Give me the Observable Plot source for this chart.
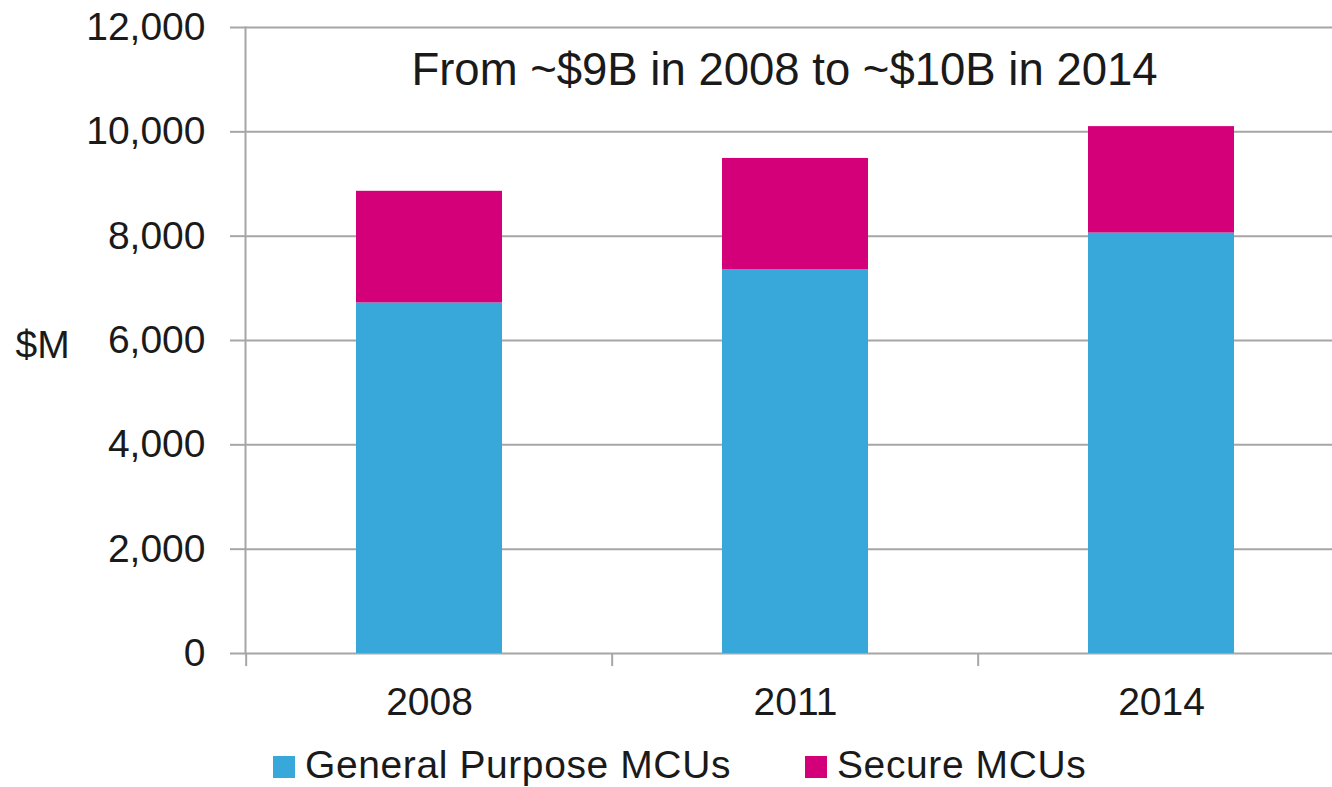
<!DOCTYPE html>
<html>
<head>
<meta charset="utf-8">
<script src="https://cdn.jsdelivr.net/npm/d3@7"></script>
<script src="https://cdn.jsdelivr.net/npm/@observablehq/plot@0.6"></script>
<style>
  html, body { margin: 0; padding: 0; background: #fff; overflow: hidden; }
  #wrap { position: relative; width: 1332px; height: 787px; font-family: "Liberation Sans", Arial, sans-serif; color: #1a1a1a; }
  #wrap svg { position: absolute; left: 0; top: 0; }
  .legend-item { position: absolute; top: 745px; height: 40px; display: flex; align-items: center; font-size: 39px; line-height: 40px; letter-spacing: 0.6px; white-space: nowrap; }
  .sw { width: 22px; height: 22px; margin-right: 10px; display: inline-block; position: relative; top: 2px; }
</style>
</head>
<body>
<div id="wrap"></div>
<script>
const years = ["2008", "2011", "2014"];
const generalPurpose = [6720, 7360, 8060];
const secure = [2140, 2130, 2040];
const seriesNames = ["General Purpose MCUs", "Secure MCUs"];
const seriesColors = ["#38a8da", "#d3007a"];
const yTicks = [0, 2000, 4000, 6000, 8000, 10000, 12000];
const title = "From ~$9B in 2008 to ~$10B in 2014";
const yLabel = "$M";

const data = years.flatMap((yr, i) => [
  {year: yr, series: seriesNames[0], value: generalPurpose[i]},
  {year: yr, series: seriesNames[1], value: secure[i]}
]);

const W = 1332, H = 740, mL = 245, mR = -13, mT = 27, mB = 87;
const band = (W - mR - mL) / years.length;
const grid = "#a6a6a6";

const chart = Plot.plot({
  width: W, height: H,
  marginLeft: mL, marginRight: mR, marginTop: mT, marginBottom: mB,
  style: {fontFamily: "Liberation Sans, Arial, sans-serif", fontSize: "39px", color: "#1a1a1a", background: "#fff"},
  x: {domain: years, paddingInner: 0.6, paddingOuter: 0.3},
  y: {domain: [0, 12000]},
  color: {domain: seriesNames, range: seriesColors},
  marks: [
    Plot.ruleY(yTicks, {stroke: grid, strokeWidth: 2}),
    Plot.barY(data, Plot.stackY({x: "year", y: "value", fill: "series"})),
    Plot.frame({anchor: "left", stroke: grid, strokeWidth: 2}),
    Plot.ruleX(years, {x: d => d, dx: -band / 2, y1: 0, y2: -250, stroke: grid, strokeWidth: 2}),
    Plot.axisY({ticks: yTicks, tickSize: 15, tickPadding: 25, tickFormat: d3.format(","), stroke: grid, strokeWidth: 2, label: null, fontSize: 39}),
    Plot.axisX({tickSize: 0, tickPadding: 34, label: null, fontSize: 39}),
    Plot.text([title], {frameAnchor: "top", lineAnchor: "top", dx: -11, dy: 25, fontSize: 45.5, fill: "#1a1a1a"}),
    Plot.text([yLabel], {frameAnchor: "left", textAnchor: "start", dx: -230, dy: 5, fontSize: 39, fill: "#1a1a1a"})
  ]
});

const wrap = document.getElementById("wrap");
wrap.appendChild(chart);
const legendLefts = [273, 805];
seriesNames.forEach((name, i) => {
  const item = document.createElement("div");
  item.className = "legend-item";
  item.style.left = legendLefts[i] + "px";
  const sw = document.createElement("span");
  sw.className = "sw";
  sw.style.background = seriesColors[i];
  const t = document.createElement("span");
  t.textContent = name;
  item.appendChild(sw);
  item.appendChild(t);
  wrap.appendChild(item);
});
</script>
</body>
</html>
